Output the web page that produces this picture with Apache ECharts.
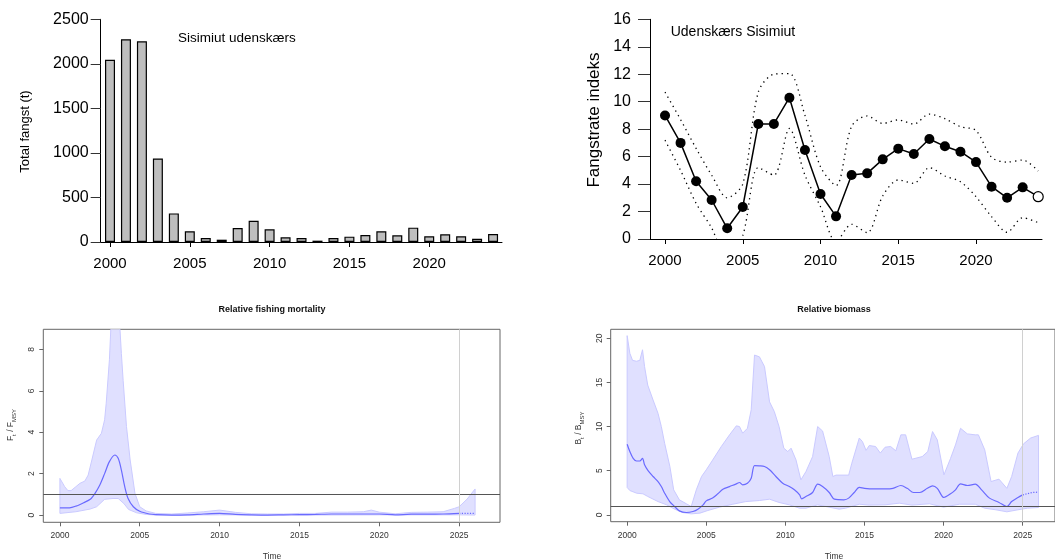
<!DOCTYPE html>
<html><head><meta charset="utf-8">
<script src="https://cdn.jsdelivr.net/npm/echarts@6/dist/echarts.min.js"></script>
<style>html,body{margin:0;padding:0;background:#fff}#c{width:1055px;height:560px}</style>
</head><body><div id="c"></div>
<script>
// ---------- Panel 1: total catch ----------
const years = [2000,2001,2002,2003,2004,2005,2006,2007,2008,2009,2010,2011,2012,2013,2014,2015,2016,2017,2018,2019,2020,2021,2022,2023,2024];
const catchT = [2045,2276,2253,938,321,120,45,26,157,239,142,52,45,15,45,60,78,120,75,161,64,86,64,37,90];
const yearTicks = [2000,2005,2010,2015,2020];

// ---------- Panel 2: catch rate index ----------
const cpue      = [9.0,7.0,4.2,2.84,0.78,2.33,8.38,8.38,10.29,6.48,3.28,1.65,4.66,4.78,5.8,6.58,6.19,7.28,6.75,6.36,5.6,3.81,3.0,3.76,3.08];
const cpueUpper = [10.7,8.7,6.6,4.65,3.0,4.0,10.7,12.0,12.05,9.0,5.26,3.9,8.2,8.96,8.42,8.67,8.37,9.1,8.76,8.18,7.9,5.95,5.6,5.75,4.95];
const cpueLower = [7.2,5.0,2.6,0.8,-1.5,0.25,5.2,4.65,8.05,4.65,2.35,-0.2,1.07,0.46,3.13,4.3,4.05,5.2,4.59,4.17,3.08,1.63,0.49,1.55,1.19];

// ---------- Panel 3: relative fishing mortality ----------
const fEstT = [2000,2000.6,2001,2001.5,2001.9,2002.2,2002.5,2002.8,2003.1,2003.44,2003.65,2003.85,2004.06,2004.27,2004.6,2005,2005.6,2006,2007,2008,2009,2010,2011,2012,2013,2014,2015,2016,2017,2018,2019,2020,2021,2022,2023,2024,2025];
const fEstV = [0.35,0.35,0.43,0.6,0.76,1.05,1.45,2.0,2.58,2.9,2.74,2.17,1.37,0.8,0.4,0.18,0.05,0.02,0,0.01,0.05,0.08,0.03,0.01,0,0.01,0.02,0.03,0.05,0.05,0.05,0.05,0.01,0.04,0.04,0.05,0.08];
const fPredT = [2025,2025.5,2026];
const fPredV = [0.08,0.08,0.08];
const fUpT = [2000,2000.3,2000.5,2000.7,2001,2001.25,2001.56,2001.77,2002,2002.3,2002.6,2002.8,2002.9,2003.1,2003.2,2003.45,2003.7,2003.85,2003.96,2004.17,2004.4,2004.7,2005,2005.4,2006,2007,2008,2009,2010,2011,2012,2013,2014,2015,2016,2017,2018,2019,2019.5,2020,2021,2022,2023,2024,2024.7,2025,2025.5,2026];
const fUpV = [1.77,1.37,1.18,1.18,1.37,1.53,1.64,1.93,2.66,3.62,3.95,4.6,5.4,7.5,9.2,13,9.8,7.8,6.5,4.27,2.66,1.05,0.4,0.2,0.08,0.05,0.1,0.16,0.24,0.13,0.06,0.05,0.05,0.08,0.08,0.14,0.14,0.16,0.24,0.14,0.06,0.13,0.14,0.16,0.32,0.4,0.77,1.26];
const fLoT = [2000,2001,2001.9,2002.3,2002.8,2003.33,2003.65,2004,2004.3,2004.8,2005.4,2006,2010,2015,2020,2025,2026];
const fLoV = [0.08,0.16,0.29,0.4,0.76,0.8,0.8,0.56,0.27,0.11,0.03,0.0,0.01,0.0,0.01,0.01,0.0];

// ---------- Panel 4: relative biomass ----------
const bEstT = [2000,2000.17,2000.38,2000.59,2000.8,2000.97,2001.1,2001.32,2001.64,2001.95,2002.16,2002.37,2002.69,2003.0,2003.3,2003.74,2004.16,2004.47,2004.8,2005.0,2005.4,2005.73,2006.05,2006.47,2006.9,2007.1,2007.3,2007.6,2007.84,2008.05,2008.36,2008.68,2009.0,2009.4,2009.83,2010.25,2010.57,2010.9,2011.03,2011.3,2011.72,2012.04,2012.35,2012.77,2013.1,2013.7,2014.0,2014.35,2014.67,2015.0,2015.6,2016.3,2016.8,2017.3,2017.7,2018.1,2018.5,2018.97,2019.3,2019.6,2020.02,2020.44,2020.75,2021.07,2021.5,2022.0,2022.4,2022.9,2023.5,2024.0,2024.3,2024.7,2025.0];
const bEstV = [8.0,7.17,6.4,6.1,6.1,6.4,5.66,5.0,4.34,3.77,3.2,2.45,1.5,0.94,0.45,0.26,0.38,0.64,1.13,1.58,1.9,2.38,2.9,3.2,3.5,3.66,3.4,3.58,4.15,5.58,5.55,5.47,5.1,4.34,3.58,3.2,2.83,2.26,1.81,2.07,2.53,3.47,3.2,2.53,1.77,1.7,1.89,2.53,3.1,3.0,2.94,2.94,3.0,3.32,3.0,2.53,2.53,3.0,3.28,3.0,1.96,2.38,2.83,3.5,3.32,3.47,2.83,1.89,1.4,0.94,1.5,1.96,2.26];
const bPredT = [2025,2025.6,2026];
const bPredV = [2.26,2.53,2.57];
const bUpT = [2000,2000.17,2000.34,2000.59,2000.8,2000.97,2001.1,2001.3,2001.64,2001.95,2002.16,2002.37,2002.7,2002.94,2003.3,2003.74,2004.05,2004.37,2004.7,2005.0,2005.4,2005.95,2006.47,2006.9,2007.1,2007.3,2007.6,2007.84,2008.05,2008.36,2008.68,2009.0,2009.3,2009.6,2009.9,2010.15,2010.36,2010.67,2010.98,2011.3,2011.72,2012.04,2012.35,2012.77,2013.0,2013.2,2014.0,2014.2,2014.67,2014.87,2015.1,2015.3,2015.7,2016.0,2016.3,2016.65,2016.98,2017.3,2017.6,2018.0,2018.65,2019.0,2019.3,2019.6,2020.02,2020.44,2020.75,2021.07,2021.5,2022.0,2022.2,2022.6,2023.0,2023.5,2024.0,2024.3,2024.7,2025.05,2025.5,2026.0];
const bUpV = [20.3,18.3,17.5,17.4,17.5,18.7,16.8,14.7,13.0,11.5,10.0,8.1,5.47,2.83,1.7,1.25,0.94,2.83,4.34,5.1,6.2,7.74,9.06,10.08,10.0,9.25,9.8,11.9,18.1,17.9,16.8,12.8,11.7,10.0,7.55,7.17,7.55,6.23,3.96,4.9,6.6,10.0,9.5,6.6,4.34,4.5,4.5,5.85,8.7,8.3,7.3,7.85,7.74,7.0,7.66,7.74,7.25,9.06,9.06,6.3,6.6,7.17,9.43,8.5,4.53,6.4,7.92,9.8,9.17,9.06,9.06,7.36,3.77,4.04,3.0,4.34,7.0,8.04,8.7,9.0];
const bLoT = [2000,2000.17,2000.6,2001.0,2001.3,2001.95,2002.5,2003.0,2003.5,2004.05,2004.6,2005.1,2005.84,2006.68,2007.5,2008.36,2009.0,2009.6,2010.25,2010.9,2011.3,2012.04,2012.56,2013.4,2013.8,2014.67,2015.3,2016.3,2017.2,2018.0,2019.1,2020.0,2021.0,2022.0,2022.6,2023.3,2024.0,2024.7,2025.3,2026.0];
const bLoV = [3.1,2.75,2.45,2.38,2.08,1.5,1.13,0.64,0.26,0.11,0.19,0.49,0.87,1.2,1.5,1.62,1.77,1.4,1.13,0.75,0.75,1.13,0.94,0.64,0.75,1.2,1.1,1.13,1.32,1.1,1.25,0.87,1.2,1.2,0.75,0.57,0.34,0.57,0.75,0.83];
const spictTicks = [2000,2005,2010,2015,2020,2025];

// ---------- helpers ----------
const FONT = 'Liberation Sans, Arial, Helvetica, sans-serif';
const zip = (a, b) => a.map((v, i) => [v, b[i]]);
const plain = v => String(v);

function bandSeries(idx, upT, upV, loT, loV) {
  const pts = zip(upT, upV).concat(zip(loT, loV).reverse());
  return {
    type: 'custom', xAxisIndex: idx, yAxisIndex: idx, clip: true, silent: true, z: 1,
    data: pts,
    renderItem: (params, api) => {
      if (params.dataIndex !== 0) return null;
      return {
        type: 'polygon',
        shape: { points: pts.map(p => api.coord(p)) },
        style: { fill: '#e0e0ff', stroke: '#cacaff', lineWidth: 1 }
      };
    }
  };
}

function topX(idx, min, max, margin) {
  return {
    type: 'value', gridIndex: idx, min: min, max: max,
    axisLine: { show: true, onZero: false, lineStyle: { color: '#000', width: 1 } },
    axisTick: { show: true, length: 5, customValues: yearTicks, lineStyle: { color: '#000' } },
    axisLabel: { customValues: yearTicks, formatter: plain, fontSize: 15, color: '#000', margin: margin, fontFamily: FONT },
    splitLine: { show: false }
  };
}
function topY(idx, max, interval, tickLen, margin) {
  return {
    type: 'value', gridIndex: idx, min: 0, max: max, interval: interval,
    axisLine: { show: true, onZero: false, lineStyle: { color: '#000', width: 1 } },
    axisTick: { show: true, length: tickLen, lineStyle: { color: '#333' } },
    axisLabel: { formatter: plain, fontSize: 16, color: '#000', margin: margin, fontFamily: FONT },
    splitLine: { show: false }
  };
}
function botX(idx, min, max) {
  return {
    type: 'value', gridIndex: idx, min: min, max: max,
    axisLine: { show: false, onZero: false },
    axisTick: { show: true, length: 4, customValues: spictTicks, lineStyle: { color: '#666' } },
    axisLabel: { customValues: spictTicks, formatter: plain, fontSize: 8.5, color: '#333', margin: 9, fontFamily: FONT },
    splitLine: { show: false }
  };
}
function botY(idx, min, max, ticks) {
  return {
    type: 'value', gridIndex: idx, min: min, max: max,
    axisLine: { show: false, onZero: false },
    axisTick: { show: true, length: 4, customValues: ticks, lineStyle: { color: '#666' } },
    axisLabel: { customValues: ticks, formatter: plain, rotate: 90, fontSize: 8.5, color: '#333', margin: 7, fontFamily: FONT },
    splitLine: { show: false }
  };
}

const refLines = {
  symbol: 'none', silent: true, label: { show: false },
  data: [
    { yAxis: 1, lineStyle: { color: '#555', width: 1, type: 'solid' } },
    { xAxis: 2025, lineStyle: { color: '#d0d0d0', width: 1, type: 'solid' } }
  ]
};

const chart = echarts.init(document.getElementById('c'), null, { renderer: 'canvas' });
chart.setOption({
  animation: false,
  backgroundColor: '#fff',
  grid: [
    { left: 100.7, top: 19.3, right: 553, bottom: 318, show: false },
    { left: 650, top: 19.3, right: 13, bottom: 321, show: false },
    { left: 43.3, top: 329.3, right: 555, bottom: 37.7, show: true, borderColor: '#666', borderWidth: 1, backgroundColor: 'transparent' },
    { left: 610.7, top: 329.3, right: -1.4, bottom: 38.3, show: true, borderColor: '#666', borderWidth: 1, backgroundColor: 'transparent' }
  ],
  xAxis: [
    topX(0, 1999.417, 2024.56, 14),
    topX(1, 1999.035, 2024.244, 14),
    botX(2, 1998.96, 2027.56),
    botX(3, 1998.96, 2027.04)
  ],
  yAxis: [
    topY(0, 2500, 500, 10, 12),
    topY(1, 16, 2, 12, 19),
    botY(2, -0.35, 8.97, [0, 2, 4, 6, 8]),
    botY(3, -0.78, 21.02, [0, 5, 10, 15, 20])
  ],
  series: [
    {
      type: 'bar', xAxisIndex: 0, yAxisIndex: 0, barWidth: 10,
      data: zip(years, catchT),
      itemStyle: { color: '#bebebe', borderColor: '#000', borderWidth: 1.2 }
    },
    {
      type: 'line', xAxisIndex: 1, yAxisIndex: 1, symbol: 'none', smooth: 0.3,
      data: zip(years, cpueUpper),
      lineStyle: { color: '#000', width: 1.3, type: [1.3, 4] }
    },
    {
      type: 'line', xAxisIndex: 1, yAxisIndex: 1, symbol: 'none', smooth: 0.3,
      data: zip(years, cpueLower),
      lineStyle: { color: '#000', width: 1.3, type: [1.3, 4] }
    },
    {
      type: 'line', xAxisIndex: 1, yAxisIndex: 1, symbol: 'circle', symbolSize: 10, z: 5,
      data: zip(years, cpue).map((p, i) => i === years.length - 1
        ? { value: p, itemStyle: { color: '#fff', borderColor: '#000', borderWidth: 1.2 } }
        : p),
      lineStyle: { color: '#000', width: 1.5 },
      itemStyle: { color: '#000' }
    },
    bandSeries(2, fUpT, fUpV, fLoT, fLoV),
    {
      type: 'line', xAxisIndex: 2, yAxisIndex: 2, symbol: 'none', smooth: 0.3, z: 3,
      data: zip(fEstT, fEstV),
      lineStyle: { color: '#6a6aff', width: 1.2 },
      markLine: refLines
    },
    {
      type: 'line', xAxisIndex: 2, yAxisIndex: 2, symbol: 'none', z: 3,
      data: zip(fPredT, fPredV),
      lineStyle: { color: '#6a6aff', width: 1.2, type: [1.2, 1.5] }
    },
    bandSeries(3, bUpT, bUpV, bLoT, bLoV),
    {
      type: 'line', xAxisIndex: 3, yAxisIndex: 3, symbol: 'none', smooth: 0.3, z: 3,
      data: zip(bEstT, bEstV),
      lineStyle: { color: '#6a6aff', width: 1.2 },
      markLine: refLines
    },
    {
      type: 'line', xAxisIndex: 3, yAxisIndex: 3, symbol: 'none', z: 3,
      data: zip(bPredT, bPredV),
      lineStyle: { color: '#6a6aff', width: 1.2, type: [1.2, 1.5] }
    }
  ],
  graphic: [
    { type: 'text', x: 178, y: 37.8, style: { text: 'Sisimiut udenskærs', font: '13.5px ' + FONT, fill: '#000', textAlign: 'left', textVerticalAlign: 'middle', align: 'left', verticalAlign: 'middle' } },
    { type: 'text', x: 25, y: 131.5, rotation: Math.PI / 2, style: { text: 'Total fangst (t)', font: '13px ' + FONT, fill: '#000', textAlign: 'center', textVerticalAlign: 'middle', align: 'center', verticalAlign: 'middle' } },
    { type: 'text', x: 670.7, y: 31.7, style: { text: 'Udenskærs Sisimiut', font: '14px ' + FONT, fill: '#000', textAlign: 'left', textVerticalAlign: 'middle', align: 'left', verticalAlign: 'middle' } },
    { type: 'text', x: 594, y: 120, rotation: Math.PI / 2, style: { text: 'Fangstrate indeks', font: '17px ' + FONT, fill: '#000', textAlign: 'center', textVerticalAlign: 'middle', align: 'center', verticalAlign: 'middle' } },
    { type: 'text', x: 272, y: 310, style: { text: 'Relative fishing mortality', font: 'bold 9px ' + FONT, fill: '#111', textAlign: 'center', textVerticalAlign: 'middle', align: 'center', verticalAlign: 'middle' } },
    { type: 'text', x: 834, y: 310, style: { text: 'Relative biomass', font: 'bold 9px ' + FONT, fill: '#111', textAlign: 'center', textVerticalAlign: 'middle', align: 'center', verticalAlign: 'middle' } },
    { type: 'text', x: 272, y: 557, style: { text: 'Time', font: '8.5px ' + FONT, fill: '#333', textAlign: 'center', textVerticalAlign: 'middle', align: 'center', verticalAlign: 'middle' } },
    { type: 'text', x: 834, y: 557, style: { text: 'Time', font: '8.5px ' + FONT, fill: '#333', textAlign: 'center', textVerticalAlign: 'middle', align: 'center', verticalAlign: 'middle' } },
    { type: 'text', x: 12, y: 425, rotation: Math.PI / 2, style: {
        text: '{a|F}{b|t}{a| / F}{b|MSY}', fill: '#333', textAlign: 'center', textVerticalAlign: 'middle', align: 'center', verticalAlign: 'middle',
        rich: { a: { fontSize: 8.5, fontFamily: FONT, lineHeight: 11, verticalAlign: 'top', fill: '#333' }, b: { fontSize: 6, fontFamily: FONT, lineHeight: 7, verticalAlign: 'top', padding: [5, 0, 0, 0], fill: '#333' } } } },
    { type: 'text', x: 580, y: 428, rotation: Math.PI / 2, style: {
        text: '{a|B}{b|t}{a| / B}{b|MSY}', fill: '#333', textAlign: 'center', textVerticalAlign: 'middle', align: 'center', verticalAlign: 'middle',
        rich: { a: { fontSize: 8.5, fontFamily: FONT, lineHeight: 11, verticalAlign: 'top', fill: '#333' }, b: { fontSize: 6, fontFamily: FONT, lineHeight: 7, verticalAlign: 'top', padding: [5, 0, 0, 0], fill: '#333' } } } }
  ]
});
</script>
</body></html>
